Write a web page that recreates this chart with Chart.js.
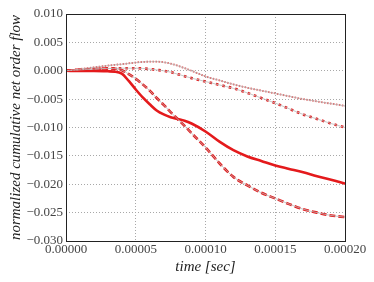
<!DOCTYPE html>
<html>
<head>
<meta charset="utf-8">
<script src="https://cdn.jsdelivr.net/npm/chart.js@4.4.1/dist/chart.umd.min.js"></script>
<style>
  html, body { margin: 0; padding: 0; background: #fff; }
  #wrap { width: 374px; height: 282px; }
</style>
</head>
<body>
<div id="wrap"><canvas id="flowChart"></canvas></div>
<script>
/* ================= DATA ================= */
const times = [0, 0.00001, 0.00002, 0.00003, 0.000035, 0.00004, 0.000045, 0.00005, 0.000055,
    0.00006, 0.000065, 0.00007, 0.000075, 0.00008, 0.000085, 0.00009, 0.0001, 0.00011,
    0.00012, 0.00013, 0.00014, 0.00015, 0.00016, 0.00017, 0.00018, 0.00019, 0.0002];

const solidFlow = [0, -0.00005, -0.00005, -0.0001, -0.00015, -0.0005, -0.0018, -0.0033, -0.0047,
    -0.0059, -0.007, -0.0077, -0.0082, -0.0085, -0.0088, -0.0093, -0.0107, -0.0125,
    -0.014, -0.0151, -0.0159, -0.0167, -0.0173, -0.0179, -0.0186, -0.0192, -0.0199];

const dashedFlow = [0, 0.0002, 0.0003, 0.0004, 0.00035, 0.0001, -0.0006, -0.0014, -0.0024,
    -0.0035, -0.0048, -0.006, -0.0073, -0.0085, -0.0097, -0.011, -0.0135, -0.0163,
    -0.0187, -0.0202, -0.0215, -0.0225, -0.0235, -0.0244, -0.025, -0.0255, -0.0258];

const dotFlow = [0, 0.00015, 0.0003, 0.0004, 0.00042, 0.00045, 0.00045, 0.00045, 0.0004,
    0.0003, 0.00015, 0, -0.00025, -0.0006, -0.00095, -0.0013, -0.0019, -0.0025,
    -0.0031, -0.0039, -0.0048, -0.0057, -0.0067, -0.0077, -0.0085, -0.0093, -0.01];

const fineDotFlow = [0, 0.0003, 0.0006, 0.0009, 0.00105, 0.00115, 0.0013, 0.00145, 0.00155,
    0.0016, 0.0016, 0.0015, 0.00125, 0.0009, 0.00045, 0, -0.001, -0.0017,
    -0.0024, -0.003, -0.0035, -0.004, -0.0045, -0.005, -0.0054, -0.0058, -0.0062];

const xTicks = [0, 0.00005, 0.0001, 0.00015, 0.0002];
const yTicks = [0.01, 0.005, 0, -0.005, -0.01, -0.015, -0.02, -0.025, -0.03];

/* ================= HELPERS ================= */
const RED = '#e41a1c';
const UNDER = 'rgba(185,185,185,0.8)';

function pts(values) {
    return times.map((t, i) => ({ x: t, y: values[i] }));
}

function fmtY(v) {
    const s = Math.abs(v).toFixed(3);
    return v < -1e-9 ? '\u2212' + s : s;
}

const framePlugin = {
    id: 'frame',
    afterDraw(chart) {
        const a = chart.chartArea;
        const ctx = chart.ctx;
        ctx.save();
        ctx.strokeStyle = '#222';
        ctx.lineWidth = 1;
        ctx.strokeRect(Math.round(a.left) + 0.5, Math.round(a.top) + 0.5,
            Math.round(a.right - a.left), Math.round(a.bottom - a.top));
        ctx.restore();
    }
};

/* ================= CHART ================= */
new Chart(document.getElementById('flowChart'), {
    type: 'line',
    data: {
        datasets: [
            { data: pts(fineDotFlow), borderColor: UNDER, borderWidth: 1 },
            { data: pts(fineDotFlow), borderColor: 'rgba(228,26,28,0.8)', borderWidth: 1.8, borderDash: [1.5, 1.5] },
            { data: pts(dotFlow), borderColor: UNDER, borderWidth: 1 },
            { data: pts(dotFlow), borderColor: RED, borderWidth: 2.6, borderDash: [2.6, 4] },
            { data: pts(dashedFlow), borderColor: UNDER, borderWidth: 1 },
            { data: pts(dashedFlow), borderColor: RED, borderWidth: 2.6, borderDash: [6, 3] },
            { data: pts(solidFlow), borderColor: RED, borderWidth: 2.6 }
        ]
    },
    options: {
        responsive: true,
        maintainAspectRatio: false,
        animation: false,
        events: [],
        layout: { padding: { left: 0, right: 29, top: 14, bottom: 0 } },
        elements: {
            point: { radius: 0 },
            line: { tension: 0, cubicInterpolationMode: 'monotone', fill: false, borderCapStyle: 'butt' }
        },
        plugins: {
            legend: { display: false },
            tooltip: { enabled: false }
        },
        scales: {
            x: {
                type: 'linear',
                min: 0,
                max: 0.0002,
                afterFit(s) { s.height = 41; },
                afterBuildTicks(s) { s.ticks = xTicks.map(v => ({ value: v })); },
                ticks: {
                    autoSkip: false,
                    maxRotation: 0,
                    padding: 1,
                    color: '#444',
                    font: { family: 'Liberation Serif', size: 13 },
                    callback: v => v.toFixed(5)
                },
                grid: { color: '#a8a8a8', lineWidth: 1, drawTicks: false },
                border: { display: false, dash: [1, 2] },
                title: {
                    display: true,
                    text: 'time [sec]',
                    color: '#222',
                    padding: { top: 0, bottom: 6 },
                    font: { family: 'Liberation Serif', size: 15, style: 'italic' }
                }
            },
            y: {
                type: 'linear',
                min: -0.03,
                max: 0.01,
                afterFit(s) { s.width = 66; },
                afterBuildTicks(s) { s.ticks = yTicks.map(v => ({ value: v })); },
                ticks: {
                    autoSkip: false,
                    padding: 3,
                    color: '#444',
                    font: { family: 'Liberation Serif', size: 13 },
                    callback: v => fmtY(v)
                },
                grid: { color: '#a8a8a8', lineWidth: 1, drawTicks: false },
                border: { display: false, dash: [1, 2] },
                title: {
                    display: true,
                    text: 'normalized cumulative net order flow',
                    color: '#222',
                    padding: { top: 7, bottom: 0 },
                    font: { family: 'Liberation Serif', size: 15, style: 'italic' }
                }
            }
        }
    },
    plugins: [framePlugin]
});
</script>
</body>
</html>
